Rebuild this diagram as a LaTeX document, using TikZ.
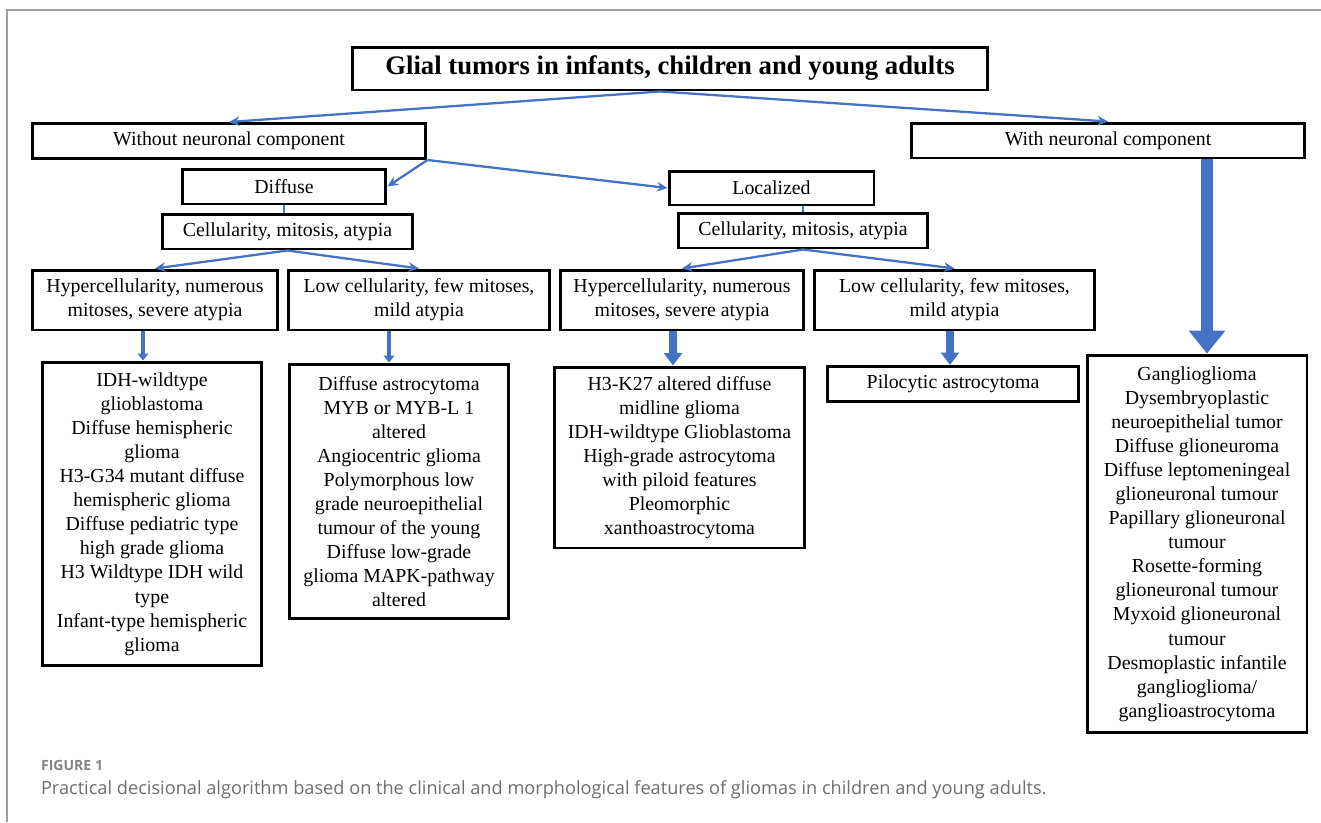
\documentclass[tikz,border=0pt]{standalone}
\usepackage{fontspec}
\setmainfont{Liberation Serif}
\newfontfamily\capfont{Open Sans}
\usepackage{xcolor}
\usetikzlibrary{arrows.meta}
\definecolor{fleche}{HTML}{4472C4}
\definecolor{legende}{HTML}{6D6E71}
\tikzset{
  boite/.style={draw=black, line width=1.7pt, align=center, inner sep=1pt,
    font=\fontsize{11.3}{13.7}\selectfont},
  fin/.style={draw=fleche, line width=1.3pt, -{Stealth[length=6pt,width=5.5pt]}},
  moyen/.style={draw=fleche, line width=2.3pt, -{Triangle[length=4pt,width=6pt]}},
  epais/.style={draw=fleche, line width=5pt, -{Triangle[length=7pt,width=10pt]}},
  large/.style={draw=fleche, line width=7pt, -{Triangle[length=13pt,width=20pt]}}
}
\begin{document}
\begin{tikzpicture}[x=0.02cm,y=-0.02cm]
\useasboundingbox (0,0) rectangle (1321,822);
%cadre
\draw [gray!75, line width=1.1pt] (7,822) -- (7,10) -- (1321,10);
%fin
%boites du haut
\node[boite, minimum width=12.7cm, minimum height=0.86cm, font=\fontsize{15.2}{18}\selectfont\bfseries] (titre) at (670,68.5) {Glial tumors in infants, children and young adults};
\node[boite, minimum width=7.88cm, minimum height=0.7cm] (sans) at (229,141) {Without neuronal component};
\node[boite, minimum width=7.88cm, minimum height=0.7cm] (avec) at (1108,140.5) {With neuronal component};
\node[boite, minimum width=4.08cm, minimum height=0.7cm] (diffus) at (284,186.5) {Diffuse};
\node[boite, minimum width=4.1cm, minimum height=0.68cm] (local) at (771.5,188) {Localized};
\node[boite, minimum width=5.02cm, minimum height=0.7cm] (celD) at (287.5,231.5) {Cellularity, mitosis, atypia};
\node[boite, minimum width=5cm, minimum height=0.7cm] (celL) at (803,230.5) {Cellularity, mitosis, atypia};
%criteres
\node[boite, minimum width=4.92cm, minimum height=1.2cm] (hautD) at (155,300) {Hypercellularity, numerous\\mitoses, severe atypia};
\node[boite, minimum width=5.22cm, minimum height=1.2cm] (basD) at (419,300) {Low cellularity, few mitoses,\\mild atypia};
\node[boite, minimum width=4.88cm, minimum height=1.2cm] (hautL) at (682,300) {Hypercellularity, numerous\\mitoses, severe atypia};
\node[boite, minimum width=5.62cm, minimum height=1.2cm] (basL) at (954.5,300) {Low cellularity, few mitoses,\\mild atypia};
%diagnostics
\node[boite, minimum width=4.4cm, minimum height=6.08cm] (idh) at (152,514) {IDH-wildtype\\glioblastoma\\Diffuse hemispheric\\glioma\\H3-G34 mutant diffuse\\hemispheric glioma\\Diffuse pediatric type\\high grade glioma\\H3 Wildtype IDH wild\\type\\Infant-type hemispheric\\glioma};
\node[boite, minimum width=4.4cm, minimum height=5.1cm] (astro) at (399,491.5) {Diffuse astrocytoma\\MYB or MYB-L 1\\altered\\Angiocentric glioma\\Polymorphous low\\grade neuroepithelial\\tumour of the young\\Diffuse low-grade\\glioma MAPK-pathway\\altered};
\node[boite, minimum width=5.02cm, minimum height=3.62cm] (ligne) at (679.5,457.5) {H3-K27 altered diffuse\\midline glioma\\IDH-wildtype Glioblastoma\\High-grade astrocytoma\\with piloid features\\Pleomorphic\\xanthoastrocytoma};
\node[boite, minimum width=5.02cm, minimum height=0.7cm] (pilo) at (953,384) {Pilocytic astrocytoma};
\node[boite, minimum width=4.4cm, minimum height=7.56cm] (neuro) at (1197,544) {Ganglioglioma\\Dysembryoplastic\\neuroepithelial tumor\\Diffuse glioneuroma\\Diffuse leptomeningeal\\glioneuronal tumour\\Papillary glioneuronal\\tumour\\Rosette-forming\\glioneuronal tumour\\Myxoid glioneuronal\\tumour\\Desmoplastic infantile\\ganglioglioma/\\ganglioastrocytoma};
%fleches
\draw[fin] ([xshift=-0.2cm]titre.south) -- (sans.north);
\draw[fin] ([xshift=-0.2cm]titre.south) -- (avec.north);
\draw[fin] (sans.south east) -- (diffus.east);
\draw[fin] (sans.south east) -- (local.west);
\draw[fleche, line width=1.3pt] (diffus.south) -- (diffus.south |- celD.north);
\draw[fleche, line width=1.3pt] (celL.north |- local.south) -- (celL.north);
\draw[fin] (celD.south) -- (hautD.north);
\draw[fin] (celD.south) -- (basD.north);
\draw[fin] (celL.south) -- (hautL.north);
\draw[fin] (celL.south) -- (basL.north);
\draw[moyen] ([xshift=-0.24cm]hautD.south) -- ([xshift=-0.24cm]hautD.south |- idh.north);
\draw[moyen] ([xshift=-0.6cm]basD.south) -- ([xshift=-0.6cm]basD.south |- astro.north);
\draw[epais] ([xshift=-0.18cm]hautL.south) -- ([xshift=-0.18cm]hautL.south |- ligne.north);
\draw[epais] ([xshift=-0.09cm]basL.south) -- ([xshift=-0.09cm]basL.south |- pilo.north);
\draw[large] ([xshift=0.2cm]neuro.north |- avec.south) -- ([xshift=0.2cm]neuro.north);
%legende
\node[anchor=west, inner sep=0pt, text=legende!85, font=\capfont\fontsize{8}{9}\selectfont\bfseries] (fig) at (40.7,765) {FIGURE 1};
\node[anchor=west, inner sep=0pt, text=legende, font=\capfont\fontsize{10.35}{12}\selectfont] (texte) at (40.7,790) {Practical decisional algorithm based on the clinical and morphological features of gliomas in children and young adults.};
\end{tikzpicture}
\end{document}
